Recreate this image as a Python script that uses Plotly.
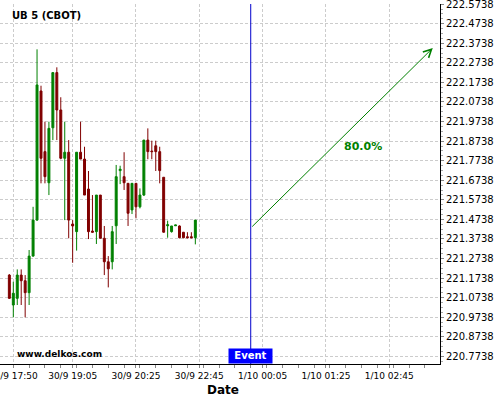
import plotly.graph_objects as go

# 5-minute candles, indexed by position (the time axis skips gaps)
opens = [221.189, 221.036, 221.070, 221.189, 221.160, 221.099, 221.286, 221.470,
         222.130, 221.820, 221.661, 221.942, 222.224, 222.033, 221.786, 221.817,
         221.450, 221.411, 221.817, 221.782, 221.629, 221.414, 221.411, 221.598,
         221.377, 221.257, 221.257, 221.441, 221.723, 221.692, 221.658, 221.522,
         221.658, 221.538, 221.598, 221.879, 221.823, 221.850, 221.820, 221.689,
         221.441, 221.411, 221.441, 221.440, 221.408, 221.385, 221.385, 221.380]
highs = [221.194, 221.155, 221.218, 221.218, 221.189, 221.317, 221.538, 222.343,
         222.157, 221.973, 221.973, 222.224, 222.251, 222.098, 221.973, 221.879,
         221.470, 221.817, 221.973, 221.845, 221.721, 221.598, 221.598, 221.598,
         221.440, 221.286, 221.440, 221.752, 221.748, 221.817, 221.658, 221.658,
         221.658, 221.632, 221.879, 221.939, 221.876, 221.876, 221.845, 221.689,
         221.467, 221.440, 221.445, 221.443, 221.409, 221.408, 221.408, 221.470]
lows = [221.067, 220.973, 221.036, 221.036, 220.973, 221.036, 221.283, 221.467,
        221.658, 221.658, 221.598, 221.879, 221.879, 221.781, 221.470, 221.377,
        221.252, 221.314, 221.782, 221.598, 221.373, 221.406, 221.348, 221.377,
        221.189, 221.126, 221.218, 221.348, 221.654, 221.624, 221.440, 221.501,
        221.479, 221.530, 221.593, 221.781, 221.781, 221.721, 221.658, 221.406,
        221.380, 221.406, 221.441, 221.377, 221.377, 221.377, 221.377, 221.346]
closes = [221.070, 221.096, 221.189, 221.160, 221.099, 221.286, 221.470, 222.161,
          221.786, 221.692, 221.939, 222.224, 222.033, 221.786, 221.817, 221.470,
          221.440, 221.817, 221.782, 221.598, 221.411, 221.408, 221.598, 221.377,
          221.257, 221.221, 221.411, 221.692, 221.730, 221.661, 221.505, 221.658,
          221.538, 221.598, 221.879, 221.820, 221.820, 221.820, 221.723, 221.408,
          221.446, 221.440, 221.445, 221.380, 221.380, 221.380, 221.380, 221.470]
candle_idx = list(range(len(opens)))

x_tickvals = [1, 16, 32, 48, 64, 80, 96]
x_ticktext = ["30/9 17:50", "30/9 19:05", "30/9 20:25", "30/9 22:45",
              "1/10 00:05", "1/10 01:25", "1/10 02:45"]
y_tickvals = [round(220.7738 + 0.1 * k, 4) for k in range(19)]
y_ticktext = ["%.4f" % v for v in y_tickvals]

event_idx = 61
arrow_start = (61, 221.4295)
arrow_end = (107, 222.3498)
arrow_label = "80.0%"

fig = go.Figure()
fig.add_trace(go.Candlestick(
    x=candle_idx, open=opens, high=highs, low=lows, close=closes,
    increasing=dict(line=dict(color="#008000", width=1), fillcolor="#008000"),
    decreasing=dict(line=dict(color="#800000", width=1), fillcolor="#800000"),
    whiskerwidth=0,
    showlegend=False,
))

# event marker
fig.add_shape(type="line", xref="x", yref="paper", x0=event_idx, x1=event_idx,
              y0=0, y1=1, line=dict(color="#0000CC", width=1))
fig.add_annotation(x=event_idx, xref="x", y=0, yref="paper", yanchor="bottom",
                   text="<b>Event</b>", showarrow=False, bgcolor="#0000FF",
                   font=dict(family="DejaVu Sans", size=10, color="white"),
                   width=41, height=11.5, borderpad=1)

# projection arrow
fig.add_annotation(x=arrow_end[0], y=arrow_end[1], ax=arrow_start[0], ay=arrow_start[1],
                   xref="x", yref="y", axref="x", ayref="y", text="",
                   showarrow=True, arrowhead=5, arrowsize=1.6, arrowwidth=1,
                   arrowcolor="#008000")
fig.add_annotation(x=89.3, y=221.845, xref="x", yref="y", text="<b>%s</b>" % arrow_label,
                   showarrow=False, font=dict(family="DejaVu Sans", size=11, color="#008000"))

# texts
fig.add_annotation(x=10 / 440, y=(364 - 15.5) / 360, xref="paper", yref="paper",
                   xanchor="left", yanchor="middle", text="<b>UB 5 (CBOT)</b>",
                   showarrow=False, font=dict(family="DejaVu Sans", size=10, color="black"))
fig.add_annotation(x=15 / 440, y=(364 - 353.5) / 360, xref="paper", yref="paper",
                   xanchor="left", yanchor="middle", text="<b>www.delkos.com</b>",
                   showarrow=False, font=dict(family="DejaVu Sans", size=9, color="black"))
fig.add_annotation(x=222.5 / 440, y=(364 - 390) / 360, xref="paper", yref="paper",
                   xanchor="center", yanchor="middle", text="<b>Date</b>",
                   showarrow=False, font=dict(family="DejaVu Sans", size=12, color="black"))

fig.update_xaxes(
    range=[-2.36, 108.83], rangeslider=dict(visible=False),
    tickvals=x_tickvals, ticktext=x_ticktext, ticks="outside", ticklen=3,
    tickcolor="#888", tickfont=dict(family="DejaVu Sans", size=9, color="black"),
    ticklabeloverflow="allow", automargin=False,
    showgrid=True, gridcolor="#cccccc", griddash="3px,2px", gridwidth=1,
    showline=True, linecolor="black", linewidth=1, zeroline=False,
    minor=dict(tick0=1, dtick=4, ticks="outside", ticklen=3, tickcolor="#888", showgrid=False),
)
fig.update_yaxes(
    side="right", range=[220.7344, 222.5747],
    tickvals=y_tickvals, ticktext=y_ticktext, ticks="outside", ticklen=3,
    tickcolor="#888", tickfont=dict(family="DejaVu Sans", size=10, color="black"),
    ticklabeloverflow="allow", automargin=False,
    showgrid=True, gridcolor="#cccccc", griddash="3px,2px", gridwidth=1,
    showline=True, linecolor="black", linewidth=1, zeroline=False,
    minor=dict(tick0=220.7738, dtick=0.025, ticks="outside", ticklen=2, tickcolor="#aaa", showgrid=False),
)
fig.update_layout(
    width=500, height=400,
    margin=dict(l=0, r=60, t=4, b=36, autoexpand=False),
    plot_bgcolor="white", paper_bgcolor="white",
    showlegend=False,
)

# page body has a default 8px margin; drop it so the figure sits at the window corner
fig.write_html("out.html", config={"displayModeBar": False},
               post_script="document.body.style.margin='0';")
